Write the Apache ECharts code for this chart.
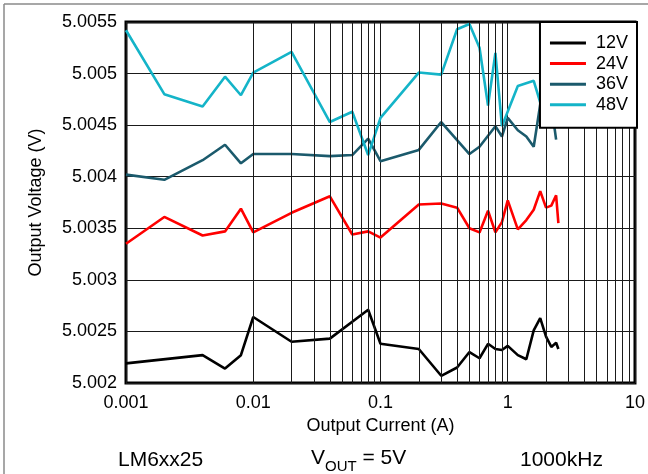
<!DOCTYPE html>
<html><head><meta charset="utf-8">
<script src="https://cdn.jsdelivr.net/npm/echarts@6/dist/echarts.min.js"></script>
<style>html,body{margin:0;padding:0;background:#fff}#c{width:648px;height:474px}</style>
</head><body><div id="c"></div>
<script>
var FONT = "'Liberation Sans', Arial, sans-serif";

var xTickLabels = ['0.001', '0.01', '0.1', '1', '10'];
var yTickLabels = ['5.002', '5.0025', '5.003', '5.0035', '5.004', '5.0045', '5.005', '5.0055'];
var seriesNames = ['12V', '24V', '36V', '48V'];

var current12 = [0.001, 0.004, 0.006, 0.008, 0.01, 0.02, 0.04, 0.08, 0.1, 0.2, 0.3, 0.4, 0.5, 0.6, 0.7, 0.8, 0.9, 1.0, 1.2, 1.4, 1.6, 1.8, 2.0, 2.2, 2.4, 2.5];
var vout12 = [5.00219, 5.00227, 5.00214, 5.00227, 5.00264, 5.00240, 5.00243, 5.00271, 5.00238, 5.00233, 5.00207, 5.00215, 5.00230, 5.00224, 5.00238, 5.00233, 5.00232, 5.00236, 5.00227, 5.00223, 5.00251, 5.00263, 5.00245, 5.00235, 5.00239, 5.00233];

var current24 = [0.001, 0.002, 0.004, 0.006, 0.008, 0.01, 0.02, 0.04, 0.06, 0.08, 0.1, 0.2, 0.3, 0.4, 0.5, 0.6, 0.7, 0.8, 0.9, 1.0, 1.2, 1.4, 1.6, 1.8, 2.0, 2.2, 2.4, 2.5];
var vout24 = [5.00335, 5.00361, 5.00343, 5.00347, 5.00369, 5.00346, 5.00365, 5.00381, 5.00344, 5.00347, 5.00341, 5.00373, 5.00374, 5.00370, 5.00350, 5.00346, 5.00367, 5.00346, 5.00356, 5.00377, 5.00349, 5.00358, 5.00368, 5.00386, 5.00370, 5.00372, 5.00382, 5.00355];

var current36 = [0.001, 0.002, 0.004, 0.006, 0.008, 0.01, 0.02, 0.04, 0.06, 0.08, 0.1, 0.2, 0.3, 0.5, 0.6, 0.8, 0.9, 1.0, 1.2, 1.4, 1.6, 1.8, 2.0, 2.2, 2.4];
var vout36 = [5.00402, 5.00397, 5.00416, 5.00431, 5.00413, 5.00422, 5.00422, 5.00420, 5.00421, 5.00437, 5.00415, 5.00426, 5.00453, 5.00422, 5.00429, 5.00449, 5.00439, 5.00457, 5.00445, 5.00439, 5.00429, 5.00470, 5.00460, 5.00470, 5.00436];

var current48 = [0.001, 0.002, 0.004, 0.006, 0.008, 0.01, 0.02, 0.04, 0.06, 0.08, 0.1, 0.2, 0.3, 0.4, 0.5, 0.6, 0.7, 0.8, 0.9, 1.2, 1.6, 1.8, 2.0, 2.2, 2.5];
var vout48 = [5.00542, 5.00480, 5.00468, 5.00497, 5.00479, 5.00501, 5.00521, 5.00453, 5.00463, 5.00421, 5.00457, 5.00501, 5.00499, 5.00543, 5.00548, 5.00525, 5.00469, 5.00520, 5.00449, 5.00488, 5.00493, 5.00472, 5.00490, 5.00480, 5.00490];

var minorMultipliers = [2, 3, 4, 5, 6, 7, 8, 9];
var decades = [0.001, 0.01, 0.1, 1];

var colors = ['#000000', '#ff0000', '#1b5a6c', '#14b4c8'];

function pairs(xs, ys) { return xs.map(function (x, i) { return [x, ys[i]]; }); }

var minorLines = [];
decades.forEach(function (d) {
  minorMultipliers.forEach(function (m) { minorLines.push({ xAxis: +(d * m).toPrecision(3) }); });
});

var chart = echarts.init(document.getElementById('c'), null, { renderer: 'canvas' });
var lineW = 2.6;
var option = {
  animation: false,
  backgroundColor: '#ffffff',
  textStyle: { fontFamily: FONT },
  grid: { left: 126, right: 11, top: 22, bottom: 91, show: true, borderColor: '#000', borderWidth: 3, backgroundColor: 'transparent' },
  xAxis: {
    type: 'log', logBase: 10, min: 0.001, max: 10,
    name: 'Output Current (A)', nameLocation: 'middle', nameGap: 32,
    nameTextStyle: { fontSize: 18, color: '#000', fontFamily: FONT },
    axisLine: { show: false }, axisTick: { show: false },
    axisLabel: { fontSize: 18, color: '#000', margin: 11, fontFamily: FONT,
      formatter: function (v) { var s = String(+v.toPrecision(3)); return xTickLabels.indexOf(s) >= 0 ? s : ''; } },
    splitLine: { show: true, lineStyle: { color: '#1a1a1a', width: 1 } },
    minorTick: { show: false }, minorSplitLine: { show: false }
  },
  yAxis: {
    type: 'value', min: 5.002, max: 5.0055, interval: 0.0005,
    name: 'Output Voltage (V)', nameLocation: 'middle', nameGap: 81, nameRotate: 90,
    nameTextStyle: { fontSize: 18, color: '#000', fontFamily: FONT },
    axisLine: { show: false }, axisTick: { show: false },
    axisLabel: { fontSize: 18, color: '#000', margin: 9, fontFamily: FONT,
      formatter: function (v) { var s = String(+v.toFixed(4)); return yTickLabels.indexOf(s) >= 0 ? s : ''; } },
    splitLine: { show: true, lineStyle: { color: '#1a1a1a', width: 1 } }
  },
  legend: {
    data: seriesNames, orient: 'vertical', right: 11, top: 22, z: 20, zlevel: 0,
    backgroundColor: '#ffffff', borderColor: '#000', borderWidth: 2,
    padding: [11, 9, 13, 10], itemGap: 0.6, itemWidth: 36, itemHeight: 3, icon: 'rect',
    formatter: function (n) { return ' ' + n; },
    textStyle: { fontSize: 18, lineHeight: 20, color: '#000', fontFamily: FONT },
    selectedMode: false
  },
  series: [
    { type: 'line', name: '__grid', data: [], z: 1, silent: true,
      markLine: { silent: true, symbol: ['none', 'none'], label: { show: false },
        lineStyle: { color: '#1a1a1a', width: 1, type: 'solid' }, emphasis: { disabled: true }, data: minorLines } },
    { type: 'line', name: '12V', z: 2, data: pairs(current12, vout12), symbol: 'none', lineStyle: { width: lineW, color: colors[0] }, itemStyle: { color: colors[0] } },
    { type: 'line', name: '24V', z: 2, data: pairs(current24, vout24), symbol: 'none', lineStyle: { width: lineW, color: colors[1] }, itemStyle: { color: colors[1] } },
    { type: 'line', name: '36V', z: 2, data: pairs(current36, vout36), symbol: 'none', lineStyle: { width: lineW, color: colors[2] }, itemStyle: { color: colors[2] } },
    { type: 'line', name: '48V', z: 2, data: pairs(current48, vout48), symbol: 'none', lineStyle: { width: lineW, color: colors[3] }, itemStyle: { color: colors[3] } }
  ],
  graphic: [
    { type: 'line', shape: { x1: 4, y1: 4, x2: 648, y2: 4 }, style: { stroke: '#8a8a8a', lineWidth: 1.5 }, silent: true },
    { type: 'line', shape: { x1: 4, y1: 4, x2: 4, y2: 474 }, style: { stroke: '#8a8a8a', lineWidth: 1.5 }, silent: true },
    { type: 'text', left: 118, top: 450, style: { text: 'LM6xx25', fontSize: 21, fontFamily: FONT, fill: '#000' } },
    { type: 'text', left: 311, top: 448, style: { text: '{a|V}{b|OUT}{a| = 5V}', fontFamily: FONT, fill: '#000',
      rich: { a: { fontSize: 21, fontFamily: FONT, fill: '#000', lineHeight: 28, verticalAlign: 'bottom' },
              b: { fontSize: 15, fontFamily: FONT, fill: '#000', lineHeight: 28, verticalAlign: 'bottom', padding: [0, 0, -5, 0] } } } },
    { type: 'text', left: 520, top: 450, style: { text: '1000kHz', fontSize: 21, fontFamily: FONT, fill: '#000' } }
  ]
};
chart.setOption(option);
</script></body></html>
